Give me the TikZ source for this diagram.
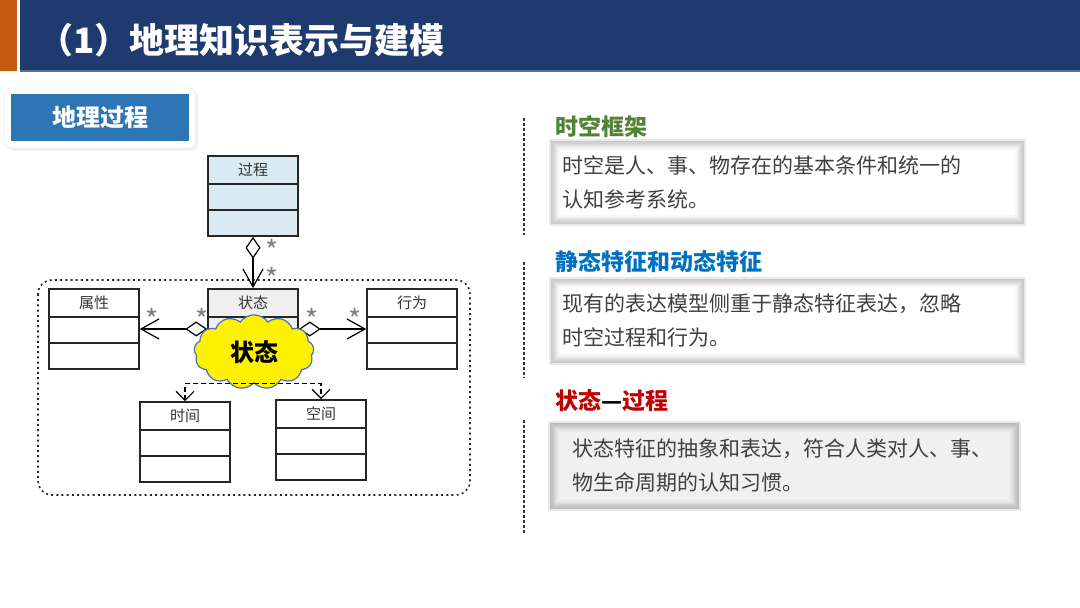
\documentclass[tikz,border=0pt]{standalone}
\usepackage{fontspec}
\setmainfont{Noto Sans CJK SC}
\usetikzlibrary{arrows.meta, shapes.symbols, shadows}
\definecolor{titleblue}{HTML}{1F3A6E}
\definecolor{titleedge}{HTML}{5B6F9C}
\definecolor{titleorange}{HTML}{C55A11}
\definecolor{btnblue}{HTML}{2E75B6}
\definecolor{procblue}{HTML}{DAE9F2}
\definecolor{stategray}{HTML}{EFEFEF}
\definecolor{headgreen}{HTML}{538135}
\definecolor{headblue}{HTML}{0070C0}
\definecolor{headred}{HTML}{C00000}
\definecolor{bodygray}{HTML}{404040}
\definecolor{cloudedge}{HTML}{4472C4}
\newcommand{\classlines}[1]{%
  \draw[classline] ([yshift=-14.5pt]#1.north west) -- ([yshift=-14.5pt]#1.north east)
    ([yshift=-27.5pt]#1.north west) -- ([yshift=-27.5pt]#1.north east);}
\tikzset{
	classnode/.style={
			shape=rectangle,
			draw=black!85,
			line width=0.8pt,
			minimum width=45pt,
			minimum height=40pt,
			inner sep=0pt
		},
	classline/.style={
			draw=black!85,
			line width=0.8pt
		},
	classname/.style={
			font=\fontsize{7.5pt}{8pt}\selectfont,
			text=black!80,
			inner sep=0pt
		},
	startext/.style={
			font=\fontsize{14pt}{14pt}\selectfont,
			text=gray,
			inner sep=0pt
		},
	assoc/.style={
			line width=0.6pt,
			{Diamond[open, fill=white, length=11pt, width=7.5pt]}-{Straight Barb[length=9pt, width=10pt]}
		},
	depend/.style={
			line width=0.6pt,
			dash pattern=on 2.5pt off 1.5pt,
			-{Straight Barb[length=4.5pt, width=9pt]}
		},
	cloudnode/.style={
			shape=cloud,
			cloud puffs=13,
			cloud puff arc=110,
			draw=cloudedge,
			line width=0.6pt,
			fill=yellow,
			minimum width=60pt,
			minimum height=36pt,
			inner sep=0pt,
			font=\fontsize{12pt}{13pt}\selectfont\bfseries
		}
}
\tikzset{
	titletext/.style={font=\fontsize{17.5pt}{20pt}\selectfont\bfseries, text=white, inner sep=0pt},
	btnouter/.style={
			shape=rectangle,
			draw=black!6,
			fill=white,
			rounded corners=3pt,
			minimum width=95.5pt,
			minimum height=30pt,
			drop shadow={opacity=0.12, shadow xshift=1.5pt, shadow yshift=-1.5pt}
		},
	btnnode/.style={
			shape=rectangle,
			fill=btnblue,
			text=white,
			minimum width=89pt,
			minimum height=23.5pt,
			font=\fontsize{12pt}{14pt}\selectfont\bfseries
		},
	headtext/.style={font=\fontsize{11.5pt}{13pt}\selectfont\bfseries, inner sep=0pt},
	sepline/.style={draw=black!80, line width=0.6pt, dash pattern=on 1.5pt off 1pt},
	groupline/.style={draw=black!85, line width=0.8pt, dash pattern=on 1pt off 1.6pt, rounded corners=7pt},
	descbox/.style={
			shape=rectangle,
			draw=black!9,
			line width=0.8pt,
			align=left,
			text=bodygray,
			font=\fontsize{10.5pt}{17pt}\selectfont,
			path picture={
					\foreach \i [evaluate=\i as \c using {#1+(8-\i)*3}] in {0,...,8}
					\fill[black!\c] ([xshift=\i*0.6pt, yshift=-\i*0.6pt]path picture bounding box.north west)
					rectangle ([xshift=-\i*0.6pt, yshift=\i*0.6pt]path picture bounding box.south east);
				}
		}
}
\begin{document}
\begin{tikzpicture}[x=0.5pt, y=-0.5pt]
  \useasboundingbox (0,0) rectangle (1080,608);

  \fill[titleblue] (20,0) rectangle (1080,71);
  \fill[titleorange] (0,0) rectangle (17,71);
  \draw[titleedge, line width=0.6pt] (20,71) -- (1080,71);
  \node[titletext, anchor=west] (title) at (38,40) {（1）地理知识表示与建模};

  \node[btnouter] (btnbg) at (99.5,118) {};
  \node[btnnode] (btn) at (100,117.5) {地理过程};

  \draw[groupline] (38,280) rectangle (470,495);

  \node[classnode, fill=procblue] (proc) at (253,196) {};
  \node[classnode] (attr) at (94,329) {};
  \node[classnode, fill=stategray] (state) at (253,329) {};
  \node[classnode] (behav) at (412,329) {};
  \node[classnode] (time) at (185,442) {};
  \node[classnode] (space) at (321,440) {};
  \foreach \c in {proc,attr,state,behav,time,space} {\classlines{\c}}

  \node[classname] (proc-name) at ([yshift=-7.25pt]proc.north) {过程};
  \node[classname] (attr-name) at ([yshift=-7.25pt]attr.north) {属性};
  \node[classname] (state-name) at ([yshift=-7.25pt]state.north) {状态};
  \node[classname] (behav-name) at ([yshift=-7.25pt]behav.north) {行为};
  \node[classname] (time-name) at ([yshift=-7.25pt]time.north) {时间};
  \node[classname] (space-name) at ([yshift=-7.25pt]space.north) {空间};

  \draw[assoc] (proc.south) -- (state.north);
  \draw[assoc] (state.west) -- (attr.east);
  \draw[assoc] (state.east) -- (behav.west);

  \node[startext] (star1) at (272,250) {*};
  \node[startext] (star2) at (272,278) {*};
  \node[startext] (star3) at (152,319) {*};
  \node[startext] (star4) at (202,319) {*};
  \node[startext] (star5) at (312,319) {*};
  \node[startext] (star6) at (355,319) {*};

  \node[cloudnode] (cloud) at (254,352) {状态};
  \draw[depend] (cloud.south) -| (time.north);
  \draw[depend] (cloud.south) -| (space.north);

  \draw[sepline] (524,118) -- (524,235);
  \draw[sepline] (524,262) -- (524,378);
  \draw[sepline] (524,420) -- (524,535);

  \node[headtext, text=headgreen, anchor=west] (head1) at (555,127) {时空框架};
  \node[headtext, text=headblue, anchor=west] (head2) at (555,262) {静态特征和动态特征};
  \node[headtext, text=headred, anchor=west] (head3) at (555,401) {状态{\color{black}—}过程};

  \node[descbox=0, minimum width=237.5pt, minimum height=42.5pt, inner xsep=6pt, text width=225.5pt] (desc1) at (787.5,182.5) {时空是人、事、物存在的基本条件和统一的\\认知参考系统。};
  \node[descbox=0, minimum width=237.5pt, minimum height=43pt, inner xsep=6pt, text width=225.5pt] (desc2) at (787.5,321) {现有的表达模型侧重于静态特征表达，忽略\\时空过程和行为。};
  \node[descbox=6, minimum width=235.5pt, minimum height=44pt, inner xsep=11.5pt, text width=212.5pt] (desc3) at (784.5,466) {状态特征的抽象和表达，符合人类对人、事、\\物生命周期的认知习惯。};

\end{tikzpicture}
\end{document}
